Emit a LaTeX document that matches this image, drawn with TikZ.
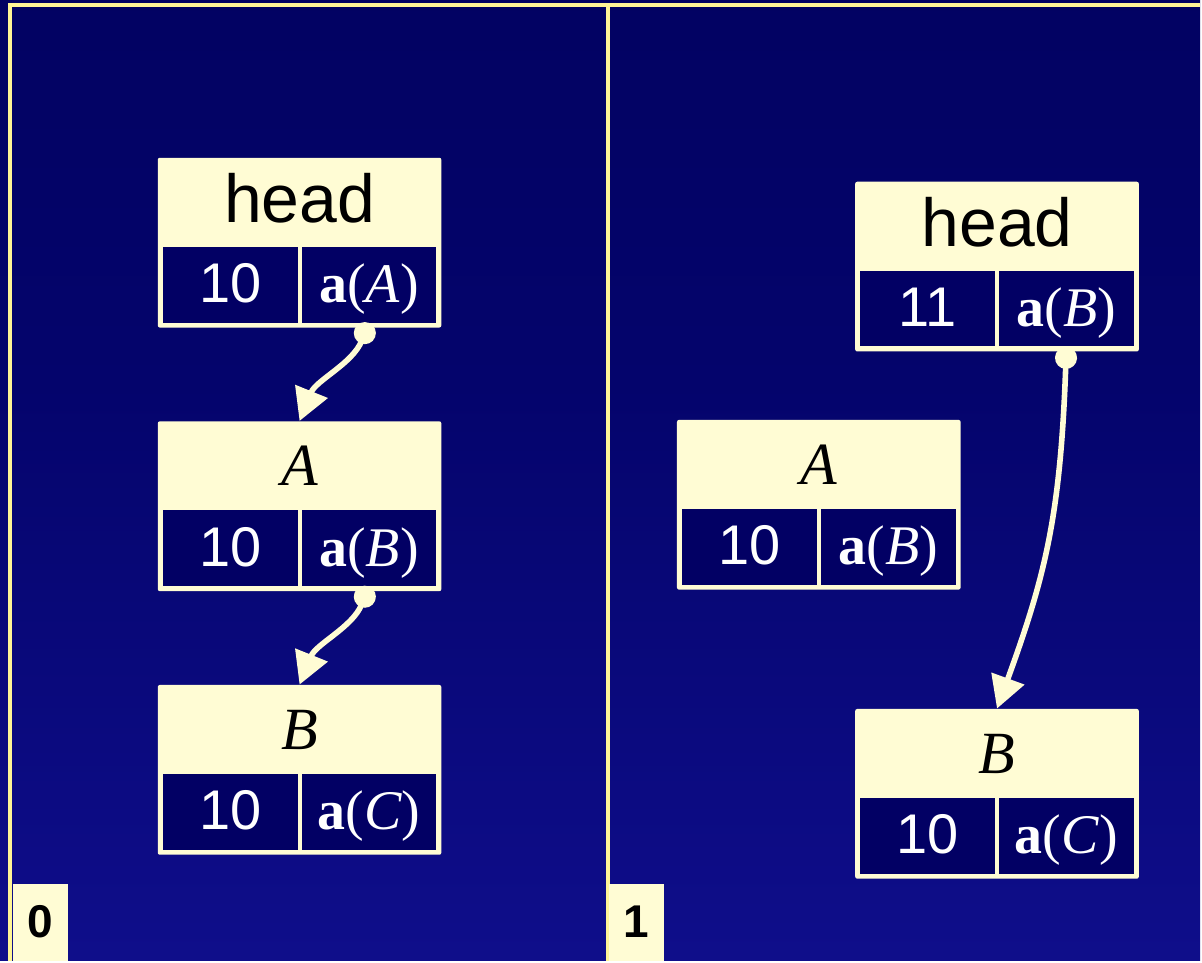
\documentclass[tikz,border=0pt]{standalone}
\usepackage{fontspec}
\setmainfont{Liberation Serif}
\setsansfont{Liberation Sans}
\usetikzlibrary{arrows.meta}

\definecolor{cream}{RGB}{255,252,212}
\definecolor{rulecol}{RGB}{255,245,150}
\definecolor{cellblue}{RGB}{2,0,100}
\definecolor{bgtop}{RGB}{0,0,86}
\definecolor{bgmid}{RGB}{4,4,108}
\definecolor{bgbot}{RGB}{24,22,164}
\pgfdeclareverticalshading{bgfade}{100bp}{color(0bp)=(bgbot); color(55bp)=(bgmid); color(100bp)=(bgtop)}

\begin{document}
\begin{tikzpicture}[
    x=0.5pt, y=-0.5pt,
    record/.style={rectangle, fill=cream, minimum width=142pt, minimum height=85pt, inner sep=0pt, rounded corners=1pt},
    cell/.style={rectangle, fill=cellblue, minimum width=67.5pt, minimum height=38pt, inner sep=0pt, text=white, text height=22pt, text depth=4pt},
    num/.style={cell, font=\sffamily\fontsize{28}{30}\selectfont},
    ptr/.style={cell, font=\fontsize{28}{30}\selectfont},
    title/.style={anchor=base, font=\fontsize{30}{32}\selectfont\itshape},
    headtitle/.style={anchor=base, font=\sffamily\fontsize{34}{38}\selectfont},
    stamp/.style={rectangle, fill=cream, minimum width=27.5pt, minimum height=38.5pt, inner sep=0pt, font=\sffamily\bfseries\fontsize{23}{25}\selectfont},
    frame/.style={draw=rulecol, line width=1.8pt},
    link/.style={draw=cream, line width=2.8pt, {Circle[length=11pt]}-{Triangle[length=16pt,width=17pt]}}
]
    \shade[shading=bgfade] (0,0) rectangle (1202,962);

    \draw[frame] (10,962) -- (10,5) -- (1202,5);
    \draw[frame] (609,5) -- (609,962);

    \node[stamp] (lab0) at (40.5,923.5) {0};
    \node[stamp] (lab1) at (637.5,923.5) {1};

    % panel 0
    \node[record] (lhead) at (300,243) {};
    \node[headtitle] (lheadt) at ([yshift=-32.5pt]lhead.north) {head};
    \node[num, anchor=south west] (lheadn) at ([shift={(2.5pt,2.5pt)}]lhead.south west) {10};
    \node[ptr, anchor=south east] (lheadp) at ([shift={(-2.5pt,2.5pt)}]lhead.south east) {\textbf{a}(\textit{A})};

    \node[record] (lA) at (300,507) {};
    \node[title] (lAt) at ([yshift=-32.5pt]lA.north) {A};
    \node[num, anchor=south west] (lAn) at ([shift={(2.5pt,2.5pt)}]lA.south west) {10};
    \node[ptr, anchor=south east] (lAp) at ([shift={(-2.5pt,2.5pt)}]lA.south east) {\textbf{a}(\textit{B})};

    \node[record] (lB) at (300,771) {};
    \node[title] (lBt) at ([yshift=-32.5pt]lB.north) {B};
    \node[num, anchor=south west] (lBn) at ([shift={(2.5pt,2.5pt)}]lB.south west) {10};
    \node[ptr, anchor=south east] (lBp) at ([shift={(-2.5pt,2.5pt)}]lB.south east) {\textbf{a}(\textit{C})};

    \draw[link] (lheadp.south) .. controls +(-112:22pt) and +(68:22pt) .. (lA.north);
    \draw[link] (lAp.south) .. controls +(-112:22pt) and +(68:22pt) .. (lB.north);

    % panel 1
    \node[record] (rhead) at (998.5,267) {};
    \node[headtitle] (rheadt) at ([yshift=-32.5pt]rhead.north) {head};
    \node[num, anchor=south west] (rheadn) at ([shift={(2.5pt,2.5pt)}]rhead.south west) {11};
    \node[ptr, anchor=south east] (rheadp) at ([shift={(-2.5pt,2.5pt)}]rhead.south east) {\textbf{a}(\textit{B})};

    \node[record] (rA) at (820,505.5) {};
    \node[title] (rAt) at ([yshift=-32.5pt]rA.north) {A};
    \node[num, anchor=south west] (rAn) at ([shift={(2.5pt,2.5pt)}]rA.south west) {10};
    \node[ptr, anchor=south east] (rAp) at ([shift={(-2.5pt,2.5pt)}]rA.south east) {\textbf{a}(\textit{B})};

    \node[record] (rB) at (998.5,795) {};
    \node[title] (rBt) at ([yshift=-32.5pt]rB.north) {B};
    \node[num, anchor=south west] (rBn) at ([shift={(2.5pt,2.5pt)}]rB.south west) {10};
    \node[ptr, anchor=south east] (rBp) at ([shift={(-2.5pt,2.5pt)}]rB.south east) {\textbf{a}(\textit{C})};

    \draw[link] (rheadp.south) .. controls +(-92:85pt) and +(70:70pt) .. (rB.north);

\end{tikzpicture}
\end{document}
